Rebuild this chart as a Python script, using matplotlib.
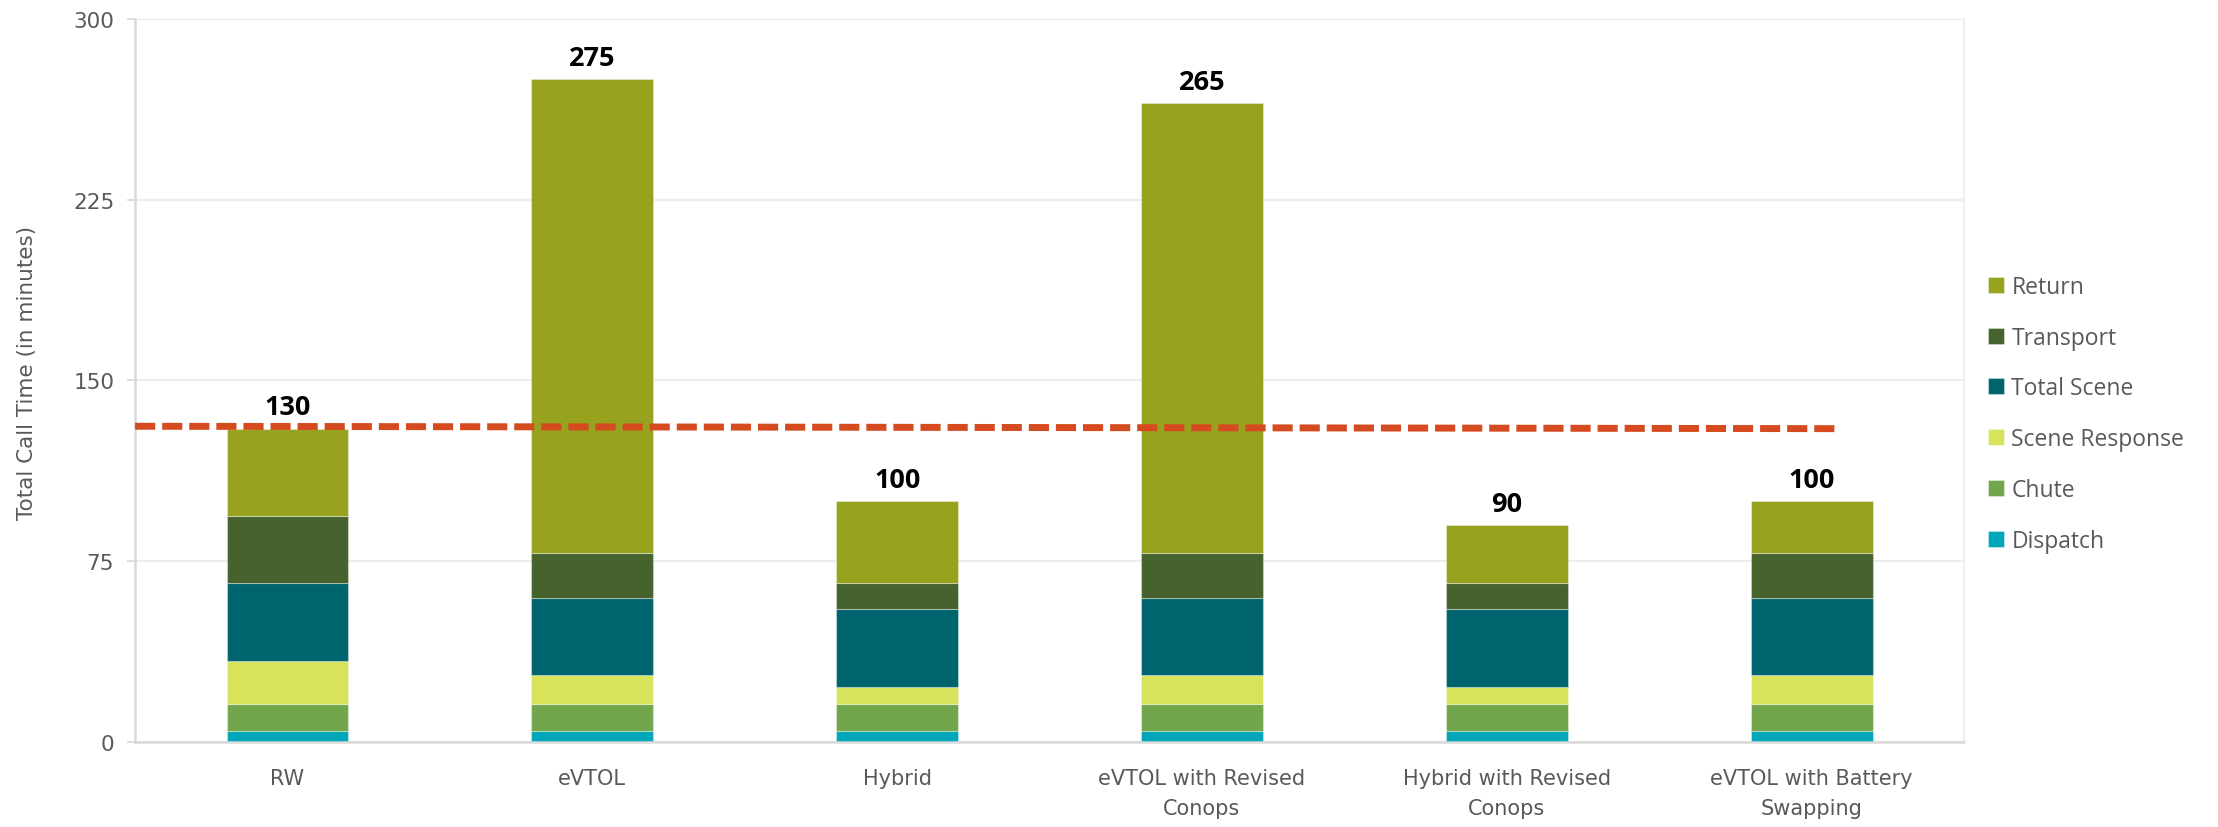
import matplotlib.pyplot as plt
import numpy as np

# call time components per concept, in minutes
categories = ["RW", "eVTOL", "Hybrid", "eVTOL with Revised\nConops",
              "Hybrid with Revised\nConops", "eVTOL with Battery\nSwapping"]
dispatch = [4.6, 4.6, 4.6, 4.6, 4.6, 4.6]
chute = [11.1, 11.1, 11.1, 11.1, 11.1, 11.1]
scene_response = [17.9, 11.9, 7.1, 11.9, 7.1, 11.9]
total_scene = [32.2, 32.2, 32.2, 32.2, 32.2, 32.2]
transport = [28.1, 18.6, 11.1, 18.6, 11.1, 18.6]
ret = [36.1, 196.6, 33.9, 186.6, 23.9, 21.6]

# RW baseline drawn as a dashed reference
ref_x = [-0.5, 5.08]
ref_y = [131, 130]

series = [
    ("Dispatch", dispatch, "#00A6B9"),
    ("Chute", chute, "#72A64C"),
    ("Scene Response", scene_response, "#D7E35B"),
    ("Total Scene", total_scene, "#00646E"),
    ("Transport", transport, "#46632E"),
    ("Return", ret, "#97A21E"),
]

fig = plt.figure(figsize=(22.18, 8.28), dpi=100)
ax = fig.add_axes([0.0609, 0.1027, 0.8246, 0.8732])

x = np.arange(len(categories))
bottom = np.zeros(len(categories))
handles = []
for name, vals, col in series:
    b = ax.bar(x, vals, 0.40, bottom=bottom, color=col,
               edgecolor=(1, 1, 1, 0.35), linewidth=0.8, label=name, zorder=2)
    handles.append(b)
    bottom += np.array(vals)

# totals above each bar
for xi, tot in zip(x, bottom):
    ax.annotate(f"{tot:.0f}", (xi, tot), xytext=(0, 6), textcoords="offset points",
                ha="center", va="bottom", fontsize=19.5, fontweight="bold",
                family="Open Sans", color="black")

ax.plot(ref_x, ref_y, color="#D64A1F", lw=5, dashes=(2.9, 1.0), zorder=3)

ax.set_xlim(-0.5, 5.5)
ax.set_ylim(0, 300)
ax.set_yticks([0, 75, 150, 225, 300])
ax.set_xticks(x)
ax.set_xticklabels(categories, fontsize=15, color="#595959", linespacing=1.6)
ax.tick_params(axis="x", length=0, pad=19)
ax.tick_params(axis="y", length=6, width=1.2, color="#D9D9D9", pad=9,
               labelsize=15.5, labelcolor="#595959")
ax.grid(axis="y", color="#EDEDED", linewidth=1.5, zorder=0)
ax.set_axisbelow(True)
for s in ["left", "bottom"]:
    ax.spines[s].set_color("#D9D9D9")
    ax.spines[s].set_linewidth(1.8)
ax.spines["right"].set_color("#F0F0F0")
ax.spines["right"].set_linewidth(1.5)
ax.spines["top"].set_visible(False)

fig.text(0.0122, 0.55, "Total Call Time (in minutes)", rotation=90,
         ha="center", va="center", fontsize=15.5, color="#595959",
         family=["Liberation Sans Narrow", "DejaVu Sans"])

leg = fig.legend(handles[::-1], [s[0] for s in series][::-1],
                 loc="center left", bbox_to_anchor=(0.8963, 0.499),
                 frameon=False, borderpad=0, borderaxespad=0,
                 handlelength=0.7, handleheight=0.7, handletextpad=0.32,
                 labelspacing=1.17, prop={"family": "Open Sans", "size": 16.5})
for t in leg.get_texts():
    t.set_color("#595959")

fig.savefig("out.png", dpi=100)
